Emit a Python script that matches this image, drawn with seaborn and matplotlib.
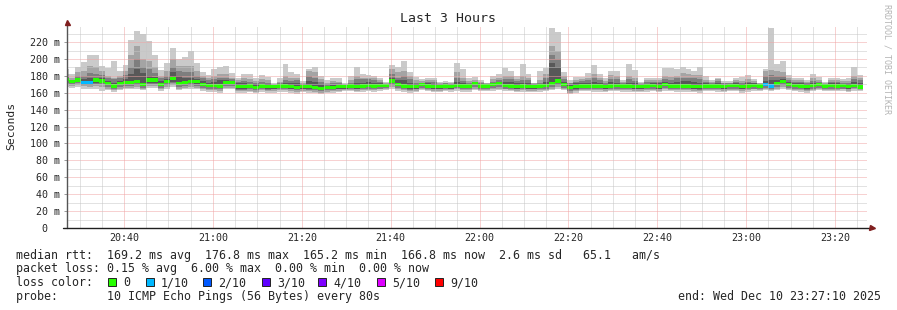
import numpy as np
import matplotlib
matplotlib.use("Agg")
import matplotlib.pyplot as plt
from matplotlib.patches import Rectangle
import seaborn as sns

# ---------------- data (ms) ----------------
window_start = "20:27:10"
window_end = "23:27:10"
sample_start = "20:26:20"   # start of first (partial) 80 s sample
step_sec = 80

rtt_max = [188,182,190,196,205,205,192,189,197,186,193,222,233,229,221,205,187,195,213,200,202,209,195,185,181,188,190,192,183,178,182,182,177,181,
           179,172,177,194,184,182,174,188,190,180,175,178,177,172,180,190,182,181,180,178,173,193,191,197,185,179,176,178,178,173,174,173,195,188,
           177,179,175,172,180,182,189,186,180,194,182,172,186,189,237,232,185,175,179,179,183,193,182,177,186,186,175,194,187,173,178,178,177,189,
           189,188,190,188,186,190,180,175,178,174,174,177,179,181,176,172,188,237,194,197,181,178,178,175,182,179,173,177,177,176,177,190,181]
rtt_p9 = [182,178,184,186,192,190,186,180,178,180,186,205,215,200,198,190,180,186,200,192,192,192,186,180,177,180,182,182,178,175,177,176,174,176,
          175,170,173,180,178,178,172,186,185,176,172,174,173,170,175,180,178,178,177,175,171,188,184,186,180,175,174,175,175,171,172,171,185,178,
          174,175,173,171,176,178,180,180,176,180,178,171,175,182,215,210,180,172,175,176,178,182,177,174,181,180,173,180,178,171,175,175,175,180,
          179,180,183,182,181,181,175,173,176,172,172,175,174,176,174,171,186,187,186,185,177,175,175,173,177,175,171,175,175,174,174,180,177]
rtt_p8 = [179,175,180,180,183,182,181,177,176,177,181,190,200,190,188,183,177,180,190,186,185,185,180,177,175,176,178,178,176,173,174,173,172,173,
          172,169,171,175,174,175,170,180,178,173,170,171,171,169,172,176,176,176,175,173,170,182,178,180,176,172,172,173,173,170,171,170,178,174,
          172,173,172,170,173,175,176,176,174,175,175,170,172,177,205,200,176,171,173,174,175,177,175,172,176,176,171,176,174,170,173,173,173,176,
          175,177,178,178,177,176,173,171,174,171,171,173,172,173,172,170,180,181,180,180,175,173,173,171,174,173,170,173,173,172,172,176,175]
rtt_p7 = [177,174,178,176,178,178,177,174,172,174,176,182,188,183,180,179,174,176,184,180,178,178,176,174,172,173,175,175,174,171,171,170,170,170,
          170,168,170,172,171,172,169,174,173,170,168,169,169,168,170,172,172,173,172,171,169,177,175,175,172,170,171,171,170,169,170,169,173,171,
          170,172,170,169,172,173,173,173,171,172,172,169,170,173,195,190,173,169,171,171,172,173,172,170,173,172,170,172,171,169,170,171,171,173,
          172,173,174,174,173,172,171,170,171,169,170,171,170,171,171,169,174,175,175,176,173,171,171,170,172,171,169,171,171,170,170,173,172]
rtt_median = [176,173,175,172,172,175,174,171,168,171,172,172,173,170,175,175,170,173,176.8,171,172,173,173,170,169,169,168,172,172,167,167,168,166,168,
              167,167,168,168,167,166,167,167,166,165.2,166,166,167,167,168,167,168,169,168,169,169,174,170,168,167,167,170,168,167,167,168,167,169,168,
              168,171,168,168,170,171,169,168,167,168,167,167,168,169,171,174,170,166,167,168,168,168,168,167,168,169,168,168,167,167,168,169,167,170,
              168,168,168,168,167,167,168,168,168,167,169,169,167,168,169,168,170,168,171,173,170,169,168,167,169,170,168,169,168,169,167,169,166.8]
rtt_p4 = [174,171,173,170,170,172,172,169,166,169,170,170,171,168,172,172,168,171,173,169,170,171,170,168,167,167,166,170,170,165,165,166,164,166,
          165,165,166,166,165,164,165,165,164,163,164,164,165,165,166,165,166,167,166,167,167,171,168,166,165,165,168,166,165,165,166,165,167,166,
          166,169,166,166,168,169,167,166,165,166,165,165,166,167,169,171,168,164,165,166,166,166,166,165,166,167,166,166,165,165,166,167,165,168,
          166,166,166,166,165,165,166,166,166,165,167,167,165,166,167,166,168,166,169,171,168,167,166,165,167,168,166,167,166,167,165,167,166]
rtt_p3 = [172,170,171,169,169,170,170,167,165,167,168,168,169,166,170,170,166,169,171,167,168,169,168,166,165,165,164,168,168,163,163,164,163,164,
          163,164,164,164,164,163,164,163,163,162,163,163,164,164,165,164,164,165,164,165,166,169,166,165,163,164,166,165,164,164,165,164,166,165,
          164,167,165,165,166,167,165,165,164,165,164,164,164,165,167,169,166,162,163,165,165,164,165,164,165,165,165,165,164,164,164,165,164,166,
          165,165,165,164,164,163,165,165,164,164,165,165,164,165,165,165,166,164,167,169,166,165,165,163,165,166,165,165,165,165,164,166,165]
rtt_p2 = [170,168,169,168,167,168,167,165,163,165,166,166,167,165,168,168,164,167,169,165,166,167,166,164,163,163,162,166,166,162,162,162,161,163,
          162,162,163,163,162,161,162,162,161,160,161,162,162,163,163,162,163,163,163,164,164,167,164,163,162,162,164,163,162,162,163,163,164,163,
          163,165,163,163,164,165,164,163,162,163,162,162,163,163,165,167,164,160,162,163,163,163,163,162,163,163,163,163,162,162,163,163,162,164,
          163,163,163,163,162,162,163,163,163,162,163,163,162,163,164,163,164,163,165,167,164,163,163,162,163,164,163,163,163,164,162,164,163]
rtt_min = [167,166,167,165,164,165,162,163,161,163,164,164,165,163,166,166,162,165,167,163,164,165,164,162,161,161,160,164,164,160,160,161,160,161,
           160,160,161,161,160,159,161,160,160,159,160,160,161,162,162,161,161,162,161,162,163,165,162,161,160,161,163,162,161,161,162,161,162,161,
           161,163,162,162,162,163,162,162,161,161,161,161,161,162,163,164,163,159,160,162,162,161,161,161,162,162,161,161,161,161,161,162,161,162,
           162,161,161,161,161,160,162,162,161,161,162,162,160,161,162,162,163,162,163,165,163,162,161,160,162,163,162,162,162,162,161,162,162]
loss_tenths = [0,0,0,1,1,0,0,0,0,0,0,0,0,0,0,0,0,0,0,0,0,0,0,0,0,0,0,0,0,0,0,0,0,0,
               0,0,0,0,0,0,0,0,0,0,0,0,0,0,0,0,0,0,0,0,0,0,0,0,0,0,0,0,0,0,0,0,0,0,
               0,0,0,0,0,0,0,0,0,0,0,0,0,0,0,0,0,0,0,0,0,0,0,0,0,0,0,0,0,0,0,0,0,0,
               0,0,0,0,0,0,0,0,0,0,0,0,0,0,0,0,1,1,0,0,0,0,0,0,0,0,0,0,0,0,0,0,0]

loss_levels = [0, 1, 2, 3, 4, 5, 9]
loss_labels = ["0", "1/10", "2/10", "3/10", "4/10", "5/10", "9/10"]
loss_colors = ["#26ff00", "#00b8ff", "#0059ff", "#5e00ff", "#7e00ff", "#dd00ff", "#ff0000"]

y_ticks = [0, 20, 40, 60, 80, 100, 120, 140, 160, 180, 200, 220]
x_tick_labels = ["20:40", "21:00", "21:20", "21:40", "22:00", "22:20", "22:40", "23:00", "23:20"]

legend_rows = [
    "median rtt:  169.2 ms avg  176.8 ms max  165.2 ms min  166.8 ms now  2.6 ms sd   65.1   am/s",
    "packet loss: 0.15 % avg  6.00 % max  0.00 % min  0.00 % now",
    "loss color:",
    "probe:       10 ICMP Echo Pings (56 Bytes) every 80s",
]
end_text = "end: Wed Dec 10 23:27:10 2025"
title = "Last 3 Hours"
y_label = "Seconds"
watermark = "RRDTOOL / TOBI OETIKER"

# ---------------- figure ----------------
W, H, DPI = 897, 310, 100
sns.set_style("white")
plt.rcParams['font.family'] = ['DejaVu Sans Mono', 'DejaVu Sans']

fig = plt.figure(figsize=(W / DPI, H / DPI), dpi=DPI)
fig.patch.set_facecolor("white")
AX_L, AX_R, AX_T, AX_B = 67, 867, 26, 228
ax = fig.add_axes([AX_L / W, 1 - AX_B / H, (AX_R - AX_L) / W, (AX_B - AX_T) / H])
ax.set_facecolor("white")
sns.despine(ax=ax, left=True, bottom=True)
for s in ax.spines.values():
    s.set_visible(False)

YMAX = 239.0
ax.set_xlim(0, 180)
ax.set_ylim(0, YMAX)
px_per_ms = (AX_B - AX_T) / YMAX


def minutes(s):
    parts = [int(p) for p in s.split(":")]
    return parts[0] * 60 + parts[1] + (parts[2] / 60 if len(parts) > 2 else 0)


t0 = minutes(window_start)
n = len(rtt_median)
x_edges = minutes(sample_start) - t0 + (step_sec / 60) * np.arange(n + 1)

smoke = [(rtt_min, rtt_max, "#cacaca"), (rtt_p2, rtt_p9, "#a4a4a4"),
         (rtt_p3, rtt_p8, "#7e7e7e"), (rtt_p4, rtt_p7, "#585858")]
for lo, hi, c in smoke:
    lo = np.asarray(lo, float)
    hi = np.asarray(hi, float)
    ax.fill_between(x_edges, np.append(lo, lo[-1]), np.append(hi, hi[-1]),
                    step="post", color=c, linewidth=0, zorder=1)

# median band colored by loss
half = 1.6 / px_per_ms
med = np.asarray(rtt_median, float)
col_map = dict(zip(loss_levels, loss_colors))
bar_cols = [col_map[l] for l in loss_tenths]
ax.bar(x_edges[:-1], 2 * half, bottom=med - half, width=step_sec / 60, align="edge",
       color=bar_cols, linewidth=0, zorder=3, antialiased=False)

# dotted grid (drawn above the data like rrdtool)
minor_c = "#c6c6c6"
major_c = "#f0a4a4"
dot = (0, (1, 1))
grid_kw = dict(lw=0.72, ls=dot, zorder=5)
for v in range(10, int(YMAX), 10):
    ax.axhline(v, color=major_c if v % 20 == 0 else minor_c, **grid_kw)
major_x = [minutes(t) - t0 for t in x_tick_labels]
m = minutes("20:30") - t0
while m < 180:
    is_major = any(abs(m - mx) < 1e-6 for mx in major_x)
    ax.axvline(m, color=major_c if is_major else minor_c, **grid_kw)
    m += 5

# axes with arrows
axis_c = "#1f1f1f"
arrow_c = "#801f1f"
ax.plot([0, 0], [0, 1.012], transform=ax.transAxes, color="#555555", lw=1.0, clip_on=False, zorder=6)
ax.plot([-4 / 800, 1.004], [0, 0], transform=ax.transAxes, color=axis_c, lw=1.0, clip_on=False, zorder=6)
ax.plot([0], [1.02], marker="^", ms=3.6, color=arrow_c, transform=ax.transAxes, clip_on=False, zorder=7)
ax.plot([1.0065], [0], marker=">", ms=3.6, color=arrow_c, transform=ax.transAxes, clip_on=False, zorder=7)

# ticks
ax.set_yticks(y_ticks)
ax.set_yticklabels([f"{v} m" if v else "0  " for v in y_ticks], fontsize=7.2,
                   family="DejaVu Sans Mono")
ax.set_xticks(major_x)
ax.set_xticklabels(x_tick_labels, fontsize=7.2, family="DejaVu Sans Mono")
ax.tick_params(axis="y", length=2.2, width=0.7, color="#999999", pad=2.6, direction="out", left=True)
ax.tick_params(axis="x", length=0, pad=3.6, bottom=True)

# titles
mono = "DejaVu Sans Mono"
fig.text(448 / W, 1 - 19 / H, title, ha="center", va="center", fontsize=9.5, family=mono)
fig.text(11 / W, 1 - 126 / H, y_label, ha="center", va="center", rotation=90, fontsize=8.2, family=mono)
fig.text(887 / W, 1 - 4 / H, watermark, ha="center", va="top", rotation=270, fontsize=6.0,
         family=mono, color="#b4b4b4")

# legend
row_y = [255, 268.5, 282.5, 296.5]
for txt, yy in zip(legend_rows, row_y):
    fig.text(16 / W, 1 - yy / H, txt, ha="left", va="center", fontsize=8.4, family=mono)
fig.text(881 / W, 1 - row_y[3] / H, end_text, ha="right", va="center", fontsize=8.4, family=mono)

box_x = [108, 145.7, 203.3, 261.7, 318.3, 376.7, 435]
for bx, lab, c in zip(box_x, loss_labels, loss_colors):
    fig.add_artist(Rectangle((bx / W, 1 - 286 / H), 8 / W, 8.3 / H, transform=fig.transFigure,
                             facecolor=c, edgecolor="#222222", linewidth=0.7))
    fig.text((bx + 15.3) / W, 1 - row_y[2] / H, lab, ha="left", va="center", fontsize=8.4, family=mono)

fig.savefig("out.png", dpi=DPI, facecolor="white")
